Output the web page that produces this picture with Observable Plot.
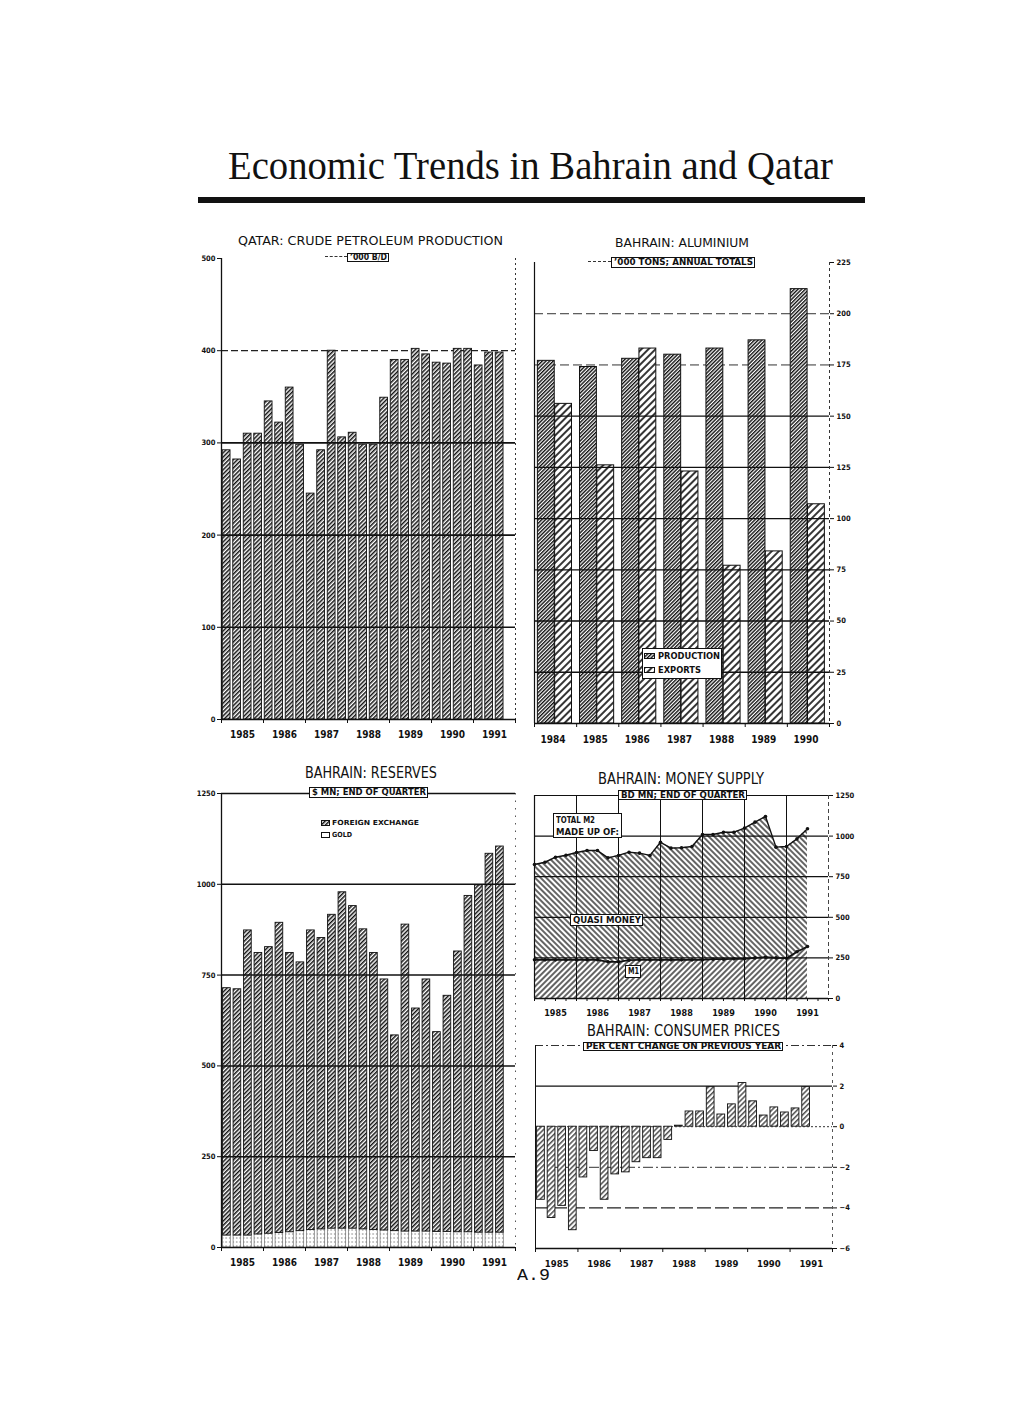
<!DOCTYPE html>
<html><head><meta charset="utf-8">
<script src="https://cdn.jsdelivr.net/npm/d3@7"></script>
<script src="https://cdn.jsdelivr.net/npm/@observablehq/plot@0.6"></script>
<style>
body{margin:0;background:#fff;}
#page{position:relative;width:1020px;height:1425px;overflow:hidden;background:#fff;color:#111;}
.chart{position:absolute;}
</style></head>
<body><div id="page">
<svg width="0" height="0" style="position:absolute">
<defs>
<pattern id="hatchQ" patternUnits="userSpaceOnUse" width="3" height="3" patternTransform="rotate(45)"><rect width="3" height="3" fill="#fff"/><line x1="0.75" y1="0" x2="0.75" y2="3" stroke="#111" stroke-width="1.5"/></pattern>
<pattern id="hatchProd" patternUnits="userSpaceOnUse" width="2.6" height="2.6" patternTransform="rotate(45)"><rect width="2.6" height="2.6" fill="#fff"/><line x1="0.7" y1="0" x2="0.7" y2="2.6" stroke="#111" stroke-width="1.4"/></pattern>
<pattern id="hatchExp" patternUnits="userSpaceOnUse" width="5" height="5" patternTransform="rotate(45)"><rect width="5" height="5" fill="#fff"/><line x1="1" y1="0" x2="1" y2="5" stroke="#111" stroke-width="1.7"/></pattern>
<pattern id="hatchQuasi" patternUnits="userSpaceOnUse" width="4" height="4" patternTransform="rotate(-45)"><rect width="4" height="4" fill="#fff"/><line x1="1" y1="0" x2="1" y2="4" stroke="#111" stroke-width="1.3"/></pattern>
<pattern id="hatchM1" patternUnits="userSpaceOnUse" width="4" height="4" patternTransform="rotate(45)"><rect width="4" height="4" fill="#fff"/><line x1="1" y1="0" x2="1" y2="4" stroke="#111" stroke-width="1.3"/></pattern>
<pattern id="hatchCPI" patternUnits="userSpaceOnUse" width="3.6" height="3.6" patternTransform="rotate(45)"><rect width="3.6" height="3.6" fill="#fff"/><line x1="0.8" y1="0" x2="0.8" y2="3.6" stroke="#222" stroke-width="1.2"/></pattern>
<pattern id="goldDots" patternUnits="userSpaceOnUse" width="3.5" height="4"><rect width="3.5" height="4" fill="#fff"/><line x1="1.7" y1="0" x2="1.7" y2="2" stroke="#777" stroke-width="0.8"/></pattern>
</defs>
</svg>
</div>
<script>
// ---------------- DATA ----------------
const quarterYears = ["1985","1986","1987","1988","1989","1990","1991"];
const qatarOutput = [292,282,310,310,345,322,360,298,245,292,400,306,311,298,298,349,390,390,402,396,387,386,402,402,384,398,398];
const qatarTicks = [0,100,200,300,400,500];

const aluYears = ["1984","1985","1986","1987","1988","1989","1990"];
const aluProduction = [177,174,178,180,183,187,212];
const aluExports = [156,126,183,123,77,84,107];
const aluTicks = [0,25,50,75,100,125,150,175,200,225];

const reservesTotal = [714,711,873,811,827,894,811,785,873,852,916,978,940,876,811,738,584,889,658,738,593,693,815,968,997,1084,1104];
const reservesGold = [33,33,33,36,38,40,42,45,48,50,52,52,52,50,48,47,45,44,44,44,43,43,42,42,41,41,41];
const reservesTicks = [0,250,500,750,1000,1250];

const m2Total = [825,839,870,882,899,911,911,866,881,901,895,881,962,926,928,936,1010,1010,1024,1024,1049,1086,1121,932,936,983,1045];
const m1Narrow = [238,238,238,238,238,238,238,226,226,236,238,238,238,238,238,238,238,242,242,244,244,250,254,250,248,288,320];
const moneyTicks = [0,250,500,750,1000,1250];

const cpiChange = [-3.6,-4.5,-3.9,-5.1,-2.5,-1.2,-3.6,-2.35,-2.25,-1.75,-1.55,-1.55,-0.65,0.05,0.75,0.75,1.95,0.6,1.1,2.15,1.25,0.55,0.95,0.7,0.9,1.95];
const cpiTicks = [-6,-4,-2,0,2,4];

// ---------------- LAYOUT HELPERS ----------------
const page = document.getElementById("page");
const SANS = "'DejaVu Sans Condensed','DejaVu Sans',sans-serif";
const plain = d => d < 0 ? "\u2212" + (-d) : String(d);
function addText(str, x1, x2, baseline, size, family, weight, asc) {
  const d = document.createElement("div");
  d.textContent = str;
  Object.assign(d.style, {position:"absolute", whiteSpace:"nowrap", fontFamily: family, fontSize: size+"px",
    lineHeight: size+"px", fontWeight: weight || "normal", color:"#111", left: x1+"px", transformOrigin:"0 0"});
  page.appendChild(d);
  d.style.top = (baseline - (asc || 0.846) * size) + "px";
  if (x2 != null) {
    const w = d.getBoundingClientRect().width;
    d.style.transform = `scaleX(${(x2 - x1) / w})`;
  }
  return d;
}
function addRect(x1, y1, x2, y2, css) {
  const b = document.createElement("div");
  Object.assign(b.style, {position:"absolute", left:x1+"px", top:y1+"px", width:(x2-x1)+"px", height:(y2-y1)+"px", boxSizing:"border-box"}, css || {});
  page.appendChild(b);
  return b;
}
function addBox(x1, y1, x2, y2, str, size) {
  addRect(x1, y1, x2, y2, {border:"1px solid #111", background:"#fff"});
  addText(str, x1 + 2.5, x2 - 2.5, (y1 + y2) / 2 + 0.37 * size, size, SANS, "bold");
}
function mount(plot, left, top) {
  const w = document.createElement("div");
  w.className = "chart";
  w.style.left = left + "px";
  w.style.top = top + "px";
  w.appendChild(plot);
  page.appendChild(w);
}
function swatch(x1, y1, x2, y2, fill) {
  const s = document.createElementNS("http://www.w3.org/2000/svg", "svg");
  s.setAttribute("width", x2 - x1); s.setAttribute("height", y2 - y1);
  s.style.position = "absolute"; s.style.left = x1 + "px"; s.style.top = y1 + "px";
  s.innerHTML = `<rect x="0.5" y="0.5" width="${x2 - x1 - 1}" height="${y2 - y1 - 1}" fill="${fill}" stroke="#111" stroke-width="1"/>`;
  page.appendChild(s);
}
const baseStyle = {background:"transparent", fontFamily: SANS, fontSize:"7.5px", fontWeight:"bold", color:"#111", overflow:"visible"};
const ink = "#111";

// ---------------- PAGE TITLE ----------------
addText("Economic Trends in Bahrain and Qatar", 228, 833, 179, 39, "'Liberation Serif','Times New Roman',serif", "normal", 0.8375);
addRect(198, 197, 865, 203, {background:"#111"});

// ---------------- QATAR ----------------
const qData = qatarOutput.map((v, i) => ({i, v}));
mount(Plot.plot({
  width: 325, height: 500, marginLeft: 21, marginRight: 10, marginTop: 8, marginBottom: 31,
  style: baseStyle,
  x: {domain: [0, 28], ticks: d3.range(0, 29, 4), tickSize: 4, tickFormat: () => "", label: null},
  y: {domain: [0, 500], ticks: qatarTicks, tickSize: 4, tickPadding: 2, tickFormat: plain, label: null},
  marks: [
    Plot.ruleY([400], {stroke: "#222", strokeWidth: 1.2, strokeDasharray: "7,3"}),
    Plot.rect(qData, {x1: d => d.i + 0.12, x2: d => d.i + 0.86, y1: 0, y2: "v", fill: "url(#hatchQ)", stroke: ink, strokeWidth: 0.9}),
    Plot.ruleY([100, 200, 300], {stroke: ink, strokeWidth: 1.6}),
    Plot.ruleY([0], {stroke: ink, strokeWidth: 1.4}),
    Plot.ruleX([0], {stroke: ink, strokeWidth: 1.3}),
    Plot.ruleX([28], {stroke: "#333", strokeWidth: 1, strokeDasharray: "2,3"}),
    Plot.text(quarterYears, {x: (d, i) => 4 * i + 2, y: 0, dy: 15, text: d => d, fontSize: 10, fontWeight: "bold"})
  ]
}), 200, 250);
addText("QATAR: CRUDE PETROLEUM PRODUCTION", 238, 503, 246, 12.5, SANS, "normal");
addRect(325, 256, 347, 258, {borderTop:"1px dashed #333"});
addBox(347, 253, 389, 262, "\u2019000 B/D", 8);

// ---------------- ALUMINIUM ----------------
const prodData = aluProduction.map((v, i) => ({i, v}));
const expData = aluExports.map((v, i) => ({i, v}));
mount(Plot.plot({
  width: 345, height: 500, marginLeft: 14, marginRight: 36, marginTop: 12, marginBottom: 27,
  style: baseStyle,
  x: {domain: [0, 7], ticks: d3.range(0, 8), tickSize: 4, tickFormat: () => "", label: null},
  y: {domain: [0, 225], ticks: aluTicks, axis: "right", tickSize: 4, tickPadding: 3, tickFormat: plain, label: null},
  marks: [
    Plot.ruleY([175, 200], {stroke: "#333", strokeWidth: 1, strokeDasharray: "9,4"}),
    Plot.rect(prodData, {x1: d => d.i + 0.08, x2: d => d.i + 0.48, y1: 0, y2: "v", fill: "url(#hatchProd)", stroke: ink, strokeWidth: 1}),
    Plot.rect(expData, {x1: d => d.i + 0.49, x2: d => d.i + 0.89, y1: 0, y2: "v", fill: "url(#hatchExp)", stroke: ink, strokeWidth: 1}),
    Plot.ruleY([25, 50, 75, 100, 125, 150], {stroke: ink, strokeWidth: 1.4}),
    Plot.ruleY([0], {stroke: ink, strokeWidth: 1.3}),
    Plot.ruleX([0], {stroke: ink, strokeWidth: 1.2}),
    Plot.ruleX([7], {stroke: "#333", strokeWidth: 1, strokeDasharray: "3,3"}),
    Plot.text(aluYears, {x: (d, i) => i + 0.44, y: 0, dy: 16, text: d => d, fontSize: 10, fontWeight: "bold"})
  ]
}), 520, 250);
addText("BAHRAIN: ALUMINIUM", 615, 749, 248, 12.5, SANS, "normal");
addRect(588, 261, 611, 263, {borderTop:"1px dashed #333"});
addBox(611, 257, 755, 268, "\u2019000 TONS; ANNUAL TOTALS", 8);
addRect(642, 648, 722, 679, {border:"1px solid #111", background:"#fff"});
swatch(644, 653, 655, 659, "url(#hatchProd)");
addText("PRODUCTION", 658, 720, 660, 8, SANS, "bold");
swatch(644, 667, 655, 673, "url(#hatchExp)");
addText("EXPORTS", 658, 701, 674, 8, SANS, "bold");

// ---------------- RESERVES ----------------
const resData = reservesTotal.map((v, i) => ({i, total: v, gold: reservesGold[i]}));
mount(Plot.plot({
  width: 325, height: 490, marginLeft: 21, marginRight: 10, marginTop: 8, marginBottom: 28,
  style: baseStyle,
  x: {domain: [0, 28], ticks: d3.range(0, 29, 4), tickSize: 4, tickFormat: () => "", label: null},
  y: {domain: [0, 1250], ticks: reservesTicks, tickSize: 4, tickPadding: 2, tickFormat: plain, label: null},
  marks: [
    Plot.rect(resData, {x1: d => d.i + 0.15, x2: d => d.i + 0.88, y1: 0, y2: "gold", fill: "url(#goldDots)", stroke: "#555", strokeWidth: 0.6}),
    Plot.rect(resData, {x1: d => d.i + 0.15, x2: d => d.i + 0.88, y1: "gold", y2: "total", fill: "url(#hatchQ)", stroke: ink, strokeWidth: 0.9}),
    Plot.ruleY([250, 500, 750, 1000, 1250], {stroke: ink, strokeWidth: 1.5}),
    Plot.ruleY([0], {stroke: ink, strokeWidth: 1.4}),
    Plot.ruleX([0], {stroke: ink, strokeWidth: 1.3}),
    Plot.ruleX([28], {stroke: "#555", strokeWidth: 1, strokeDasharray: "1.5,6"}),
    Plot.text(quarterYears, {x: (d, i) => 4 * i + 2, y: 0, dy: 15, text: d => d, fontSize: 10, fontWeight: "bold"})
  ]
}), 200, 785);
addText("BAHRAIN: RESERVES", 305, 437, 779, 15, SANS, "normal");
addBox(309, 787, 428, 798, "$ MN; END OF QUARTER", 8.5);
swatch(321, 820, 330, 826, "url(#hatchQ)");
swatch(321, 832, 330, 838, "#fff");
addText("FOREIGN EXCHANGE", 332, 419, 826, 7, SANS, "bold");
addText("GOLD", 332, 352, 838, 7, SANS, "bold");

// ---------------- MONEY SUPPLY ----------------
const msData = m2Total.map((v, i) => ({i, m2: v, m1: m1Narrow[i]}));
mount(Plot.plot({
  width: 345, height: 235, marginLeft: 14, marginRight: 37, marginTop: 10, marginBottom: 22,
  style: baseStyle,
  x: {domain: [0, 28], ticks: d3.range(0, 29), tickSize: 3, tickFormat: () => "", label: null},
  y: {domain: [0, 1250], ticks: moneyTicks, axis: "right", tickSize: 4, tickPadding: 3, tickFormat: plain, label: null},
  marks: [
    Plot.areaY(msData, {x: "i", y1: "m1", y2: "m2", fill: "url(#hatchQuasi)"}),
    Plot.areaY(msData, {x: "i", y1: 0, y2: "m1", fill: "url(#hatchM1)"}),
    Plot.ruleX([4, 8, 12, 16, 20, 24], {stroke: ink, strokeWidth: 1}),
    Plot.ruleY([250, 500, 750, 1000, 1250], {stroke: ink, strokeWidth: 1.2}),
    Plot.ruleX([0], {stroke: ink, strokeWidth: 1.2}),
    Plot.ruleX([28], {stroke: "#444", strokeWidth: 1, strokeDasharray: "4,3"}),
    Plot.line(msData, {x: "i", y: "m2", stroke: ink, strokeWidth: 1.4}),
    Plot.dot(msData, {x: "i", y: "m2", r: 1.8, fill: ink}),
    Plot.line(msData, {x: "i", y: "m1", stroke: ink, strokeWidth: 1.8}),
    Plot.dot(msData, {x: "i", y: "m1", r: 1.8, fill: ink}),
    Plot.ruleY([0], {stroke: ink, strokeWidth: 1.3}),
    Plot.text(quarterYears, {x: (d, i) => 4 * i + 2, y: 0, dy: 15, text: d => d, fontSize: 9, fontWeight: "bold"})
  ]
}), 520, 785);
addText("BAHRAIN: MONEY SUPPLY", 598, 764, 785, 15, SANS, "normal");
addBox(618, 790, 747, 800, "BD MN; END OF QUARTER", 8.5);
addRect(553, 813, 622, 838, {border:"1px solid #111", background:"#fff"});
addText("TOTAL M2", 556, 595, 823, 8.5, SANS, "bold");
addText("MADE UP OF:", 556, 619, 835, 8.5, SANS, "bold");
addBox(570, 914, 643, 926, "QUASI MONEY", 8.5);
addBox(625, 965, 641, 978, "M1", 8.5);

// ---------------- CONSUMER PRICES ----------------
const cpiData = cpiChange.map((v, i) => ({i, v}));
mount(Plot.plot({
  width: 345, height: 235, marginLeft: 15, marginRight: 33, marginTop: 5, marginBottom: 27,
  style: baseStyle,
  x: {domain: [0, 28], ticks: d3.range(0, 29, 4), tickSize: 4, tickFormat: () => "", label: null},
  y: {domain: [-6, 4], ticks: cpiTicks, axis: "right", tickSize: 4, tickPadding: 3, tickFormat: plain, label: null},
  marks: [
    Plot.ruleY([4], {stroke: "#333", strokeWidth: 1, strokeDasharray: "8,3,2,3"}),
    Plot.ruleY([2], {stroke: ink, strokeWidth: 1.2}),
    Plot.ruleY([-2], {stroke: "#333", strokeWidth: 1, strokeDasharray: "10,3,2,3"}),
    Plot.ruleY([-4], {stroke: "#222", strokeWidth: 1.1, strokeDasharray: "14,4"}),
    Plot.rect(cpiData, {x1: d => d.i + 0.15, x2: d => d.i + 0.88, y1: 0, y2: "v", fill: "url(#hatchCPI)", stroke: ink, strokeWidth: 0.9}),
    Plot.ruleY([0], {stroke: "#333", strokeWidth: 1, strokeDasharray: "2,2"}),
    Plot.ruleY([-6], {stroke: ink, strokeWidth: 1.3}),
    Plot.ruleX([0], {stroke: ink, strokeWidth: 1}),
    Plot.ruleX([28], {stroke: "#555", strokeWidth: 1, strokeDasharray: "3,4"}),
    Plot.text(quarterYears, {x: (d, i) => 4 * i + 2, y: -6, dy: 15, text: d => d, fontSize: 9.5, fontWeight: "bold"})
  ]
}), 520, 1040);
addText("BAHRAIN: CONSUMER PRICES", 587, 780, 1037, 15, SANS, "normal");
addBox(583, 1042, 783, 1051, "PER CENT CHANGE ON PREVIOUS YEAR", 8);

// page number
addText("A.9", 517, 550, 1280, 17, "'Liberation Mono','DejaVu Sans Mono',monospace", "normal", 0.7665);
</script>
</body></html>
